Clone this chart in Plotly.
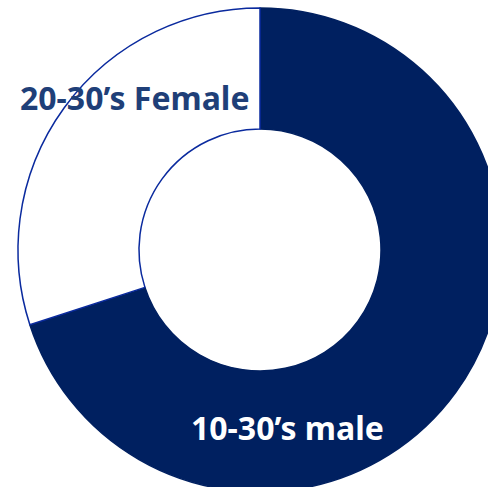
import plotly.graph_objects as go

labels = ["10-30’s male", "20-30’s Female"]
values = [70, 30]
fill_colors = ["#002060", "#FFFFFF"]
line_colors = ["#002060", "#0A2A9E"]

W, H = 520, 500

fig = go.Figure(go.Pie(
    labels=labels,
    values=values,
    hole=0.5,
    sort=False,
    direction="clockwise",
    rotation=0,
    textinfo="none",
    hoverinfo="label+percent",
    marker=dict(colors=fill_colors, line=dict(color=line_colors, width=1.5)),
    domain=dict(x=[18 / W, 502 / W], y=[1 - 492 / H, 1 - 8 / H]),
    showlegend=False,
))

fig.add_annotation(text="<b>" + labels[1] + "</b>", x=135 / W, y=1 - 98 / H,
                   xref="paper", yref="paper", xanchor="center", yanchor="middle",
                   showarrow=False,
                   font=dict(family="Noto Sans", size=32, color="#1F3F78"))
fig.add_annotation(text="<b>" + labels[0] + "</b>", x=287 / W, y=1 - 427 / H,
                   xref="paper", yref="paper", xanchor="center", yanchor="middle",
                   showarrow=False,
                   font=dict(family="Noto Sans", size=32, color="#FFFFFF"))

fig.update_layout(width=W, height=H, margin=dict(l=0, r=0, t=0, b=0),
                  paper_bgcolor="white", plot_bgcolor="white")

fig.write_html("out.html", config={"displayModeBar": False},
               post_script="document.body.style.margin='0';document.body.style.overflow='hidden';")
